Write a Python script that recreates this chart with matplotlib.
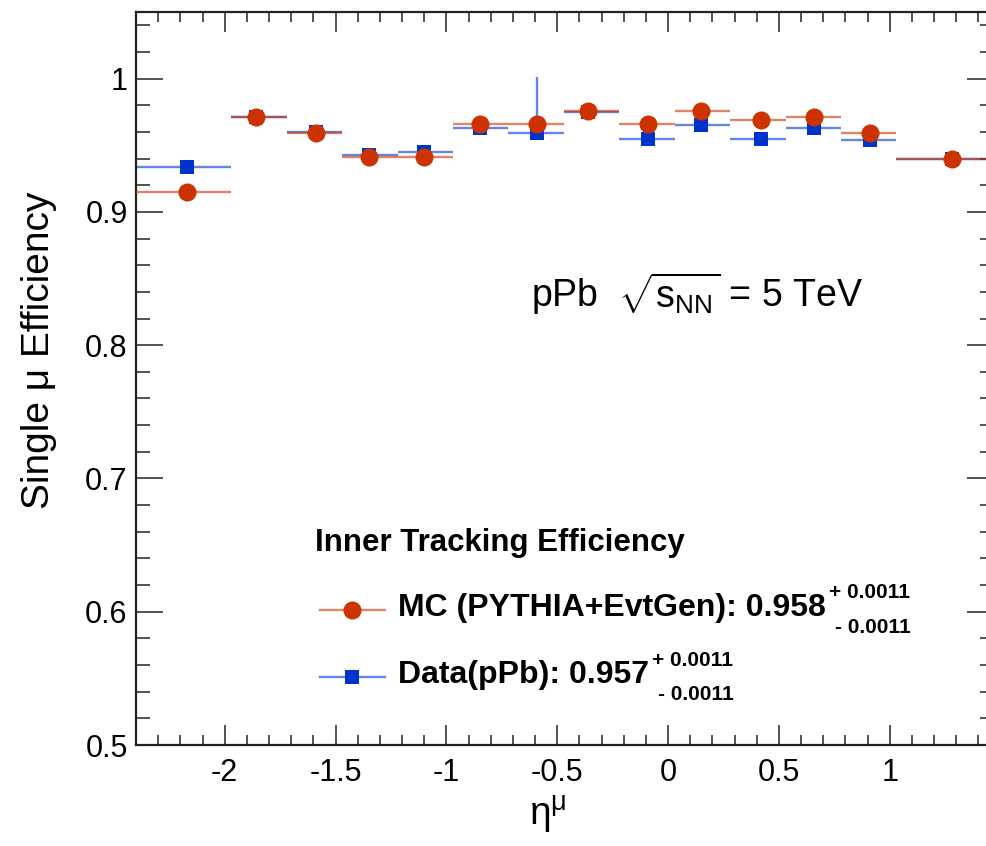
import matplotlib
matplotlib.use("Agg")
import matplotlib.pyplot as plt
import numpy as np
from matplotlib.ticker import MultipleLocator

plt.rcParams['font.family'] = ['Liberation Sans', 'DejaVu Sans']
plt.rcParams['mathtext.fontset'] = 'custom'
plt.rcParams['mathtext.rm'] = 'Liberation Sans'
plt.rcParams['mathtext.it'] = 'Liberation Sans:italic'
plt.rcParams['mathtext.bf'] = 'Liberation Sans:bold'
plt.rcParams['axes.unicode_minus'] = False

# bins in eta (lab frame) and efficiencies
eta_edges = [-2.4, -1.97, -1.72, -1.47, -1.22, -0.97, -0.72, -0.47, -0.22, 0.03, 0.28, 0.53, 0.78, 1.03, 1.47]
eta_pts = [-2.17, -1.86, -1.59, -1.35, -1.10, -0.85, -0.59, -0.36, -0.09, 0.15, 0.42, 0.66, 0.91, 1.28]
eff_mc = [0.915, 0.971, 0.959, 0.941, 0.941, 0.966, 0.966, 0.976, 0.966, 0.976, 0.969, 0.971, 0.959, 0.940]
eff_data = [0.934, 0.971, 0.960, 0.943, 0.945, 0.963, 0.959, 0.975, 0.955, 0.965, 0.955, 0.963, 0.954, 0.940]
err_data_lo = [0, 0, 0, 0, 0, 0, 0.003, 0, 0, 0, 0, 0, 0, 0]
err_data_hi = [0, 0, 0, 0, 0, 0, 0.042, 0, 0, 0, 0, 0, 0, 0]

W, H = 987, 846
fig = plt.figure(figsize=(W / 100, H / 100), dpi=100)


def fx(p):
    return p / W


def fy(p):
    return 1 - p / H


ax = fig.add_axes([fx(136), fy(745), fx(994) - fx(136), fy(12) - fy(745)])

x = np.array(eta_pts)
lo = x - np.array(eta_edges[:-1])
hi = np.array(eta_edges[1:]) - x

red, red_line = '#cc3300', '#cc3300'
blue, blue_line = '#0033cc', '#0033cc'

ax.errorbar(x, eff_data, xerr=[lo, hi], yerr=[err_data_lo, err_data_hi], fmt='none',
            ecolor=blue_line, elinewidth=1.7, alpha=0.6, capsize=0, zorder=2)
ax.errorbar(x, eff_mc, xerr=[lo, hi], fmt='none',
            ecolor=red_line, elinewidth=1.7, alpha=0.6, capsize=0, zorder=3)
ax.plot(x, eff_data, 's', color=blue, markersize=9.5, markeredgewidth=0, zorder=4)
ax.plot(x, eff_mc, 'o', color=red, markersize=13, markeredgewidth=0, zorder=5)

ax.set_xlim(-2.4, 1.47)
ax.set_ylim(0.5, 1.05)
ax.xaxis.set_major_locator(MultipleLocator(0.5))
ax.xaxis.set_minor_locator(MultipleLocator(0.1))
ax.yaxis.set_major_locator(MultipleLocator(0.1))
ax.yaxis.set_minor_locator(MultipleLocator(0.02))
ax.set_yticks([0.5, 0.6, 0.7, 0.8, 0.9, 1.0])
ax.set_yticklabels(['0.5', '0.6', '0.7', '0.8', '0.9', '1'])
ax.set_xticks([-2, -1.5, -1, -0.5, 0, 0.5, 1])
ax.set_xticklabels(['-2', '-1.5', '-1', '-0.5', '0', '0.5', '1'])

ax.tick_params(which='both', direction='in', top=True, right=True, width=1.1, color='#222222',
               labelsize=22)
ax.tick_params(axis='x', which='major', length=14.5, pad=9)
ax.tick_params(axis='x', which='minor', length=7.5)
ax.tick_params(axis='y', which='major', length=19.5, pad=6)
ax.tick_params(axis='y', which='minor', length=10)
for s in ax.spines.values():
    s.set_linewidth(1.6)
    s.set_color('#222222')

ax.set_xlabel(r'$\mathrm{\eta^{\mu}}$', fontsize=28)
ax.xaxis.set_label_coords(0.48, -0.095)
ax.xaxis.label.set_va('center')
ax.set_ylabel('Single μ Efficiency', fontsize=28, va='center')
ax.yaxis.set_label_coords(-0.113, 0.539)

fig.text(fx(531), fy(307), r'pPb  $\sqrt{\mathrm{s}_{\mathrm{NN}}}$ = 5 TeV', fontsize=27, va='baseline')

# legend drawn by hand
fig.text(fx(315), fy(543), 'Inner Tracking Efficiency', fontsize=22.5, fontweight='bold', va='center')

rows = [
    (610, 'MC (PYTHIA+EvtGen): 0.958', red, 'o', 13),
    (677, 'Data(pPb): 0.957', blue, 's', 9.5),
]
labels = []
for yy, txt, col, mk, ms in rows:
    fig.add_artist(plt.Line2D([fx(320), fx(385)], [fy(yy), fy(yy)], color=col, alpha=0.6, lw=1.7))
    fig.add_artist(plt.Line2D([fx(352)], [fy(yy)], marker=mk, color=col, markersize=ms, markeredgewidth=0))
    t = fig.text(fx(398), fy(yy - 2), txt, fontsize=23, fontweight='bold', va='center')
    labels.append((t, yy))

fig.canvas.draw()
r = fig.canvas.get_renderer()
for t, yy in labels:
    bb = t.get_window_extent(r)
    fig.text(fx(bb.x1 + 3), fy(yy - 17), '+ 0.0011', fontsize=15, fontweight='bold', va='center')
    fig.text(fx(bb.x1 + 9), fy(yy + 17), '- 0.0011', fontsize=15, fontweight='bold', va='center')

fig.savefig('out.png', dpi=100)
